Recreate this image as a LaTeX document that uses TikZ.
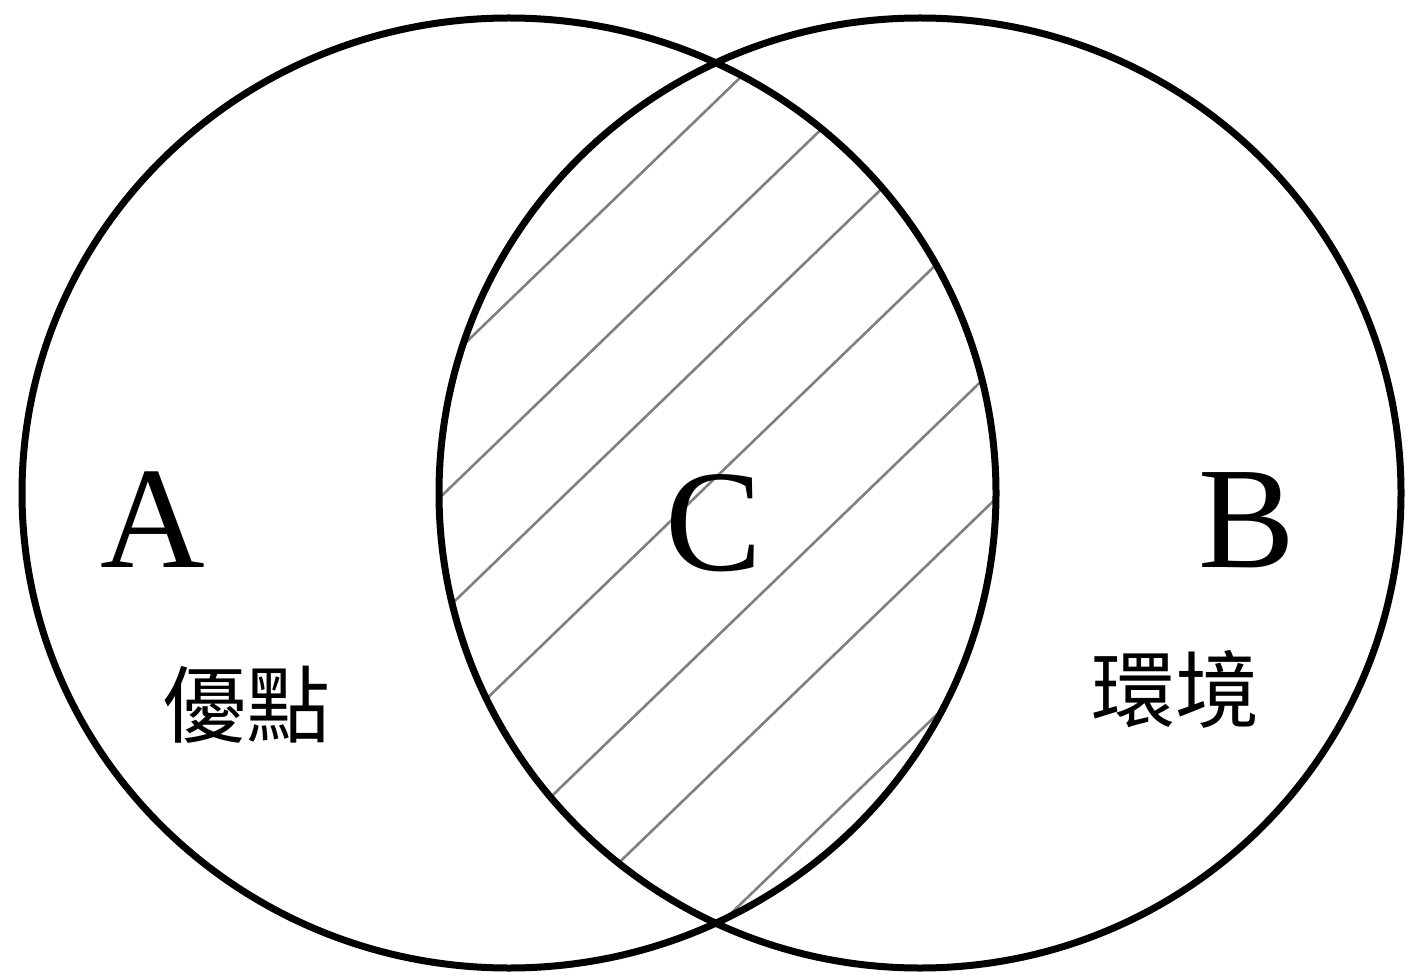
\documentclass[tikz,border=0pt]{standalone}
\usepackage{fontspec}
\setmainfont{Liberation Serif}
\newfontfamily\cjk{Noto Sans CJK TC}
\begin{document}
\begin{tikzpicture}[x=1pt,y=-1pt,
  ring/.style={draw=black,line width=7pt},
  hatchline/.style={draw=black!50,line width=2.6pt},
  letter/.style={font=\fontsize{145}{145}\selectfont, inner sep=0pt, anchor=base},
  cjklabel/.style={font=\cjk\fontsize{84}{84}\selectfont, inner sep=0pt}]
\useasboundingbox (0,0) rectangle (1406,976);
\fill[white] (0,0) rectangle (1406,976);
% hatching of the overlap
\begin{scope}
  \clip (509,493) ellipse [x radius=487pt, y radius=475pt];
  \clip (920,493) ellipse [x radius=481pt, y radius=475pt];
  \foreach \px/\py in {601/212, 631/313, 665/398, 710/483, 762/593, 805/683, 838/810}
    \draw[hatchline] ({\px-700},{\py+676}) -- ({\px+700},{\py-676});
\end{scope}
% the two sets
\draw[ring] (509,493) ellipse [x radius=487pt, y radius=475pt];
\draw[ring] (920,493) ellipse [x radius=481pt, y radius=475pt];
% labels
\node[letter] (A) at (153,567) {A};
\node[letter] (B) at (1247,567) {B};
\node[letter] (C) at (714,570) {C};
\node[cjklabel] (Atext) at (246,705) {優點};
\node[cjklabel] (Btext) at (1175,689) {環境};
\end{tikzpicture}
\end{document}
